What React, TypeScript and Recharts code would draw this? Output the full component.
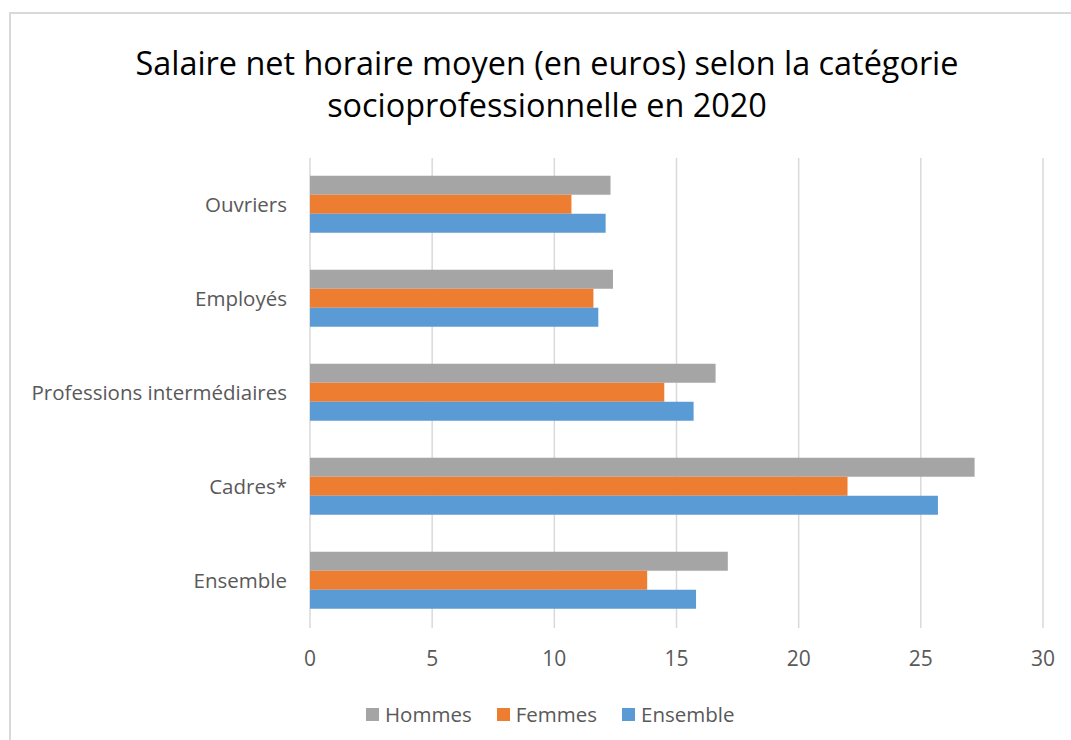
import React from "react";
import { Bar, BarChart, CartesianGrid, XAxis, YAxis } from "recharts";

const categories = ["Ouvriers", "Employés", "Professions intermédiaires", "Cadres*", "Ensemble"];
const hommes = [12.3, 12.4, 16.6, 27.2, 17.1];
const femmes = [10.7, 11.6, 14.5, 22.0, 13.8];
const ensemble = [12.1, 11.8, 15.7, 25.7, 15.8];
const xTicks = [0, 5, 10, 15, 20, 25, 30];

const series = [
    { key: "hommes", label: "Hommes", color: "#A5A5A5" },
    { key: "femmes", label: "Femmes", color: "#ED7D31" },
    { key: "ensemble", label: "Ensemble", color: "#5B9BD5" },
];

const data = categories.map((name, i) => ({
    name,
    hommes: hommes[i],
    femmes: femmes[i],
    ensemble: ensemble[i],
}));

const font = "'Open Sans', sans-serif";

function App() {
    return (
        <div
            style={{
                position: "absolute",
                left: 0,
                top: 0,
                width: 1071,
                height: 740,
                overflow: "hidden",
                background: "#fff",
                fontFamily: font,
            }}>
            <div
                style={{
                    position: "absolute",
                    left: 9,
                    top: 12,
                    width: 1100,
                    height: 800,
                    border: "2px solid #d9d9d9",
                }}
            />
            <div
                style={{
                    position: "absolute",
                    left: 0,
                    top: 41,
                    width: 1094,
                    textAlign: "center",
                    fontSize: 32.4,
                    lineHeight: "42px",
                    color: "#000",
                }}>
                Salaire net horaire moyen (en euros) selon la catégorie
                <br />
                socioprofessionnelle en 2020
            </div>
            <div style={{ position: "absolute", left: 0, top: 0 }}>
                <BarChart
                    layout="vertical"
                    width={1071}
                    height={740}
                    data={data}
                    margin={{ top: 158, right: 28, bottom: 52, left: 10 }}
                    barCategoryGap="19%"
                    barGap={0}
                    style={{ fontFamily: font }}>
                    <CartesianGrid
                        horizontal={false}
                        stroke="#d9d9d9"
                        strokeWidth={1.5}
                    />
                    <XAxis
                        type="number"
                        domain={[0, 30]}
                        ticks={xTicks}
                        interval={0}
                        axisLine={false}
                        tickLine={false}
                        tickSize={0}
                        tickMargin={23}
                        height={60}
                        tick={{ fill: "#595959", fontSize: 21, fontFamily: font }}
                    />
                    <YAxis
                        type="category"
                        dataKey="name"
                        width={300}
                        axisLine={false}
                        tickLine={false}
                        tickSize={0}
                        tickMargin={23}
                        interval={0}
                        tick={{ fill: "#595959", fontSize: 20.5, fontFamily: font }}
                    />
                    {series.map((s) => (
                        <Bar
                            key={s.key}
                            dataKey={s.key}
                            fill={s.color}
                            isAnimationActive={false}
                        />
                    ))}
                </BarChart>
            </div>
            <div
                style={{
                    position: "absolute",
                    left: 366,
                    top: 702,
                    display: "flex",
                    alignItems: "center",
                    fontSize: 20.5,
                    lineHeight: "24px",
                    color: "#595959",
                }}>
                {series.map((s) => (
                    <div
                        key={s.key}
                        style={{ display: "flex", alignItems: "center", marginRight: 25 }}>
                        <span
                            style={{
                                display: "inline-block",
                                width: 13,
                                height: 13,
                                background: s.color,
                                marginRight: 6,
                            }}
                        />
                        <span>{s.label}</span>
                    </div>
                ))}
            </div>
        </div>
    );
}

export default App;
